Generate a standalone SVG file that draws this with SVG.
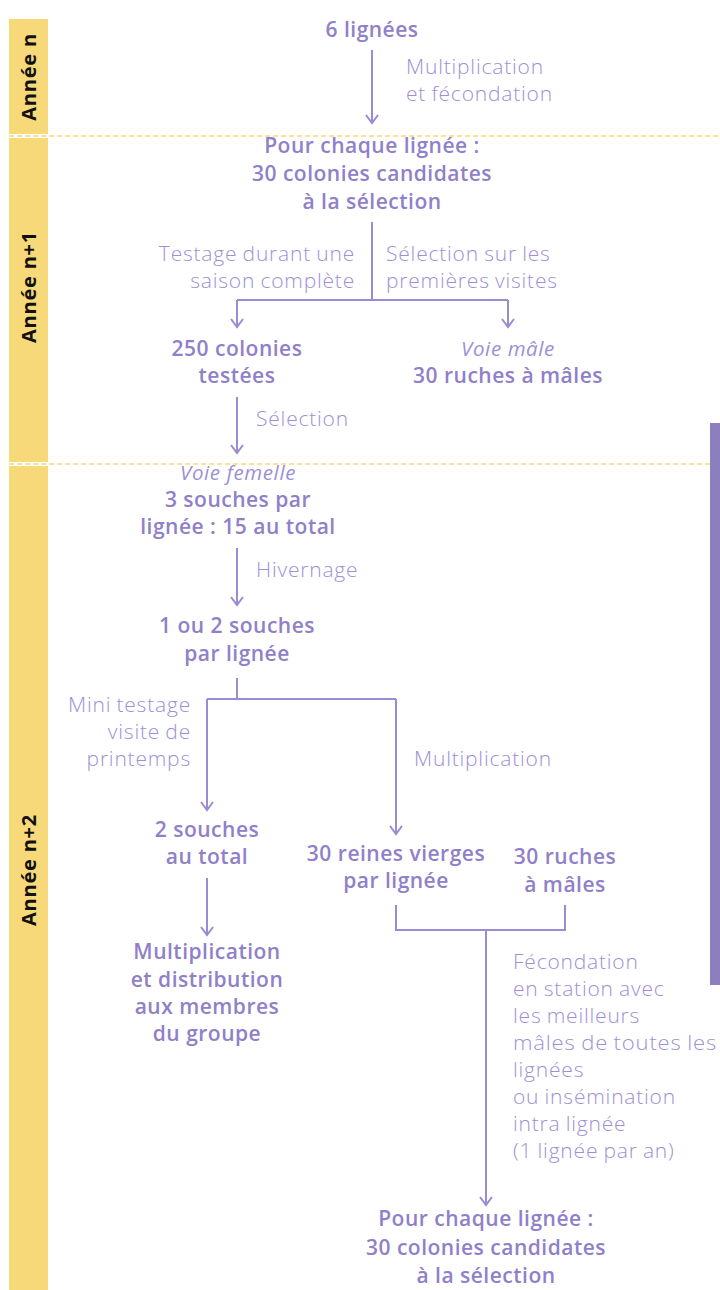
<svg xmlns="http://www.w3.org/2000/svg" width="720" height="1290" viewBox="0 0 720 1290">
<defs>
<style>
.b{font-family:"Open Sans","Liberation Sans",sans-serif;font-weight:600;font-size:21px;letter-spacing:0.5px;fill:#8f80c9;text-anchor:middle}
.i{font-family:"Open Sans","Liberation Sans",sans-serif;font-style:italic;font-weight:400;font-size:20.5px;letter-spacing:0.6px;fill:#9d90d6;text-anchor:middle}
.l{font-family:"Open Sans","Liberation Sans",sans-serif;font-weight:300;font-size:21px;letter-spacing:0.8px;word-spacing:-1px;fill:#9d90d6}
.r{text-anchor:end}
.y{font-family:"Open Sans","Liberation Sans",sans-serif;font-weight:700;font-size:20px;letter-spacing:0.8px;fill:#111;text-anchor:middle}
.c{fill:none;stroke:#9a8bd2;stroke-width:2}
.a{marker-end:url(#ah)}
.d{stroke:#f7d97a;stroke-width:1.5;stroke-dasharray:5 3}
</style>
<marker id="ah" viewBox="-10 -8 12 16" refX="0" refY="0" markerWidth="12" markerHeight="16" markerUnits="userSpaceOnUse" orient="auto">
<path d="M-8,-6 L0,0 L-8,6" fill="none" stroke="#9a8bd2" stroke-width="2"/>
</marker>
</defs>
<rect width="720" height="1290" fill="#fff"/>
<g id="years">
<rect x="9" y="19" width="39" height="115" fill="#f7d97a"/>
<rect x="9" y="138" width="39" height="324" fill="#f7d97a"/>
<rect x="9" y="466" width="39" height="824" fill="#f7d97a"/>
<line class="d" x1="9" y1="136" x2="720" y2="136"/>
<line class="d" x1="9" y1="464" x2="720" y2="464"/>
<text class="y" transform="translate(36,77) rotate(-90)">Année n</text>
<text class="y" transform="translate(36,287) rotate(-90)">Année n+1</text>
<text class="y" transform="translate(36,870) rotate(-90)">Année n+2</text>
<rect x="710" y="423" width="10" height="562" fill="#8d7fbf"/>
</g>
<g id="connectors">
<path class="c a" d="M372,50 V123"/>
<path class="c" d="M372,222 V300"/>
<path class="c" d="M237,300 H508"/>
<path class="c a" d="M237,300 V327"/>
<path class="c a" d="M508,300 V327"/>
<path class="c a" d="M237,397 V453"/>
<path class="c a" d="M237,548 V605"/>
<path class="c" d="M237,678 V699 H396"/>
<path class="c" d="M207,699 H237"/>
<path class="c a" d="M207,699 V810"/>
<path class="c a" d="M396,699 V834"/>
<path class="c a" d="M207,878 V935"/>
<path class="c" d="M396,905 V930 H565 V905"/>
<path class="c a" d="M486,930 V1205"/>
</g>
<g id="n1"><text class="b" x="372" y="37">6 lignées</text></g>
<g id="l1"><text class="l" x="406" y="74">Multiplication</text><text class="l" x="406" y="101">et fécondation</text></g>
<g id="n2"><text class="b" x="372" y="153">Pour chaque lignée :</text><text class="b" x="372" y="181">30 colonies candidates</text><text class="b" x="372" y="209">à la sélection</text></g>
<g id="l2"><text class="l r" x="355" y="261">Testage durant une</text><text class="l r" x="355" y="288">saison complète</text></g>
<g id="l3"><text class="l" x="386" y="261">Sélection sur les</text><text class="l" x="386" y="288">premières visites</text></g>
<g id="n3"><text class="b" x="237" y="356">250 colonies</text><text class="b" x="237" y="383">testées</text></g>
<g id="n4"><text class="i" x="508" y="356">Voie mâle</text><text class="b" x="508" y="383">30 ruches à mâles</text></g>
<g id="l4"><text class="l" x="256" y="426">Sélection</text></g>
<g id="n5"><text class="i" x="238" y="480">Voie femelle</text><text class="b" x="238" y="507">3 souches par</text><text class="b" x="238" y="534">lignée : 15 au total</text></g>
<g id="l5"><text class="l" x="256" y="577">Hivernage</text></g>
<g id="n6"><text class="b" x="237" y="633">1 ou 2 souches</text><text class="b" x="237" y="661">par lignée</text></g>
<g id="l6"><text class="l r" x="191" y="712">Mini testage</text><text class="l r" x="191" y="739">visite de</text><text class="l r" x="191" y="766">printemps</text></g>
<g id="l7"><text class="l" x="414" y="766">Multiplication</text></g>
<g id="n7"><text class="b" x="207" y="837">2 souches</text><text class="b" x="207" y="864">au total</text></g>
<g id="n8"><text class="b" x="396" y="861">30 reines vierges</text><text class="b" x="396" y="888">par lignée</text></g>
<g id="n9"><text class="b" x="565" y="864">30 ruches</text><text class="b" x="565" y="892">à mâles</text></g>
<g id="n10"><text class="b" x="207" y="959">Multiplication</text><text class="b" x="207" y="987">et distribution</text><text class="b" x="207" y="1014">aux membres</text><text class="b" x="207" y="1041">du groupe</text></g>
<g id="l8"><text class="l" x="513" y="969">Fécondation</text><text class="l" x="513" y="996">en station avec</text><text class="l" x="513" y="1023">les meilleurs</text><text class="l" x="513" y="1050" textLength="204" lengthAdjust="spacingAndGlyphs">mâles de toutes les</text><text class="l" x="513" y="1077">lignées</text><text class="l" x="513" y="1104">ou insémination</text><text class="l" x="513" y="1131">intra lignée</text><text class="l" x="513" y="1158">(1 lignée par an)</text></g>
<g id="n11"><text class="b" x="486" y="1226">Pour chaque lignée :</text><text class="b" x="486" y="1255">30 colonies candidates</text><text class="b" x="486" y="1283">à la sélection</text></g>
</svg>
